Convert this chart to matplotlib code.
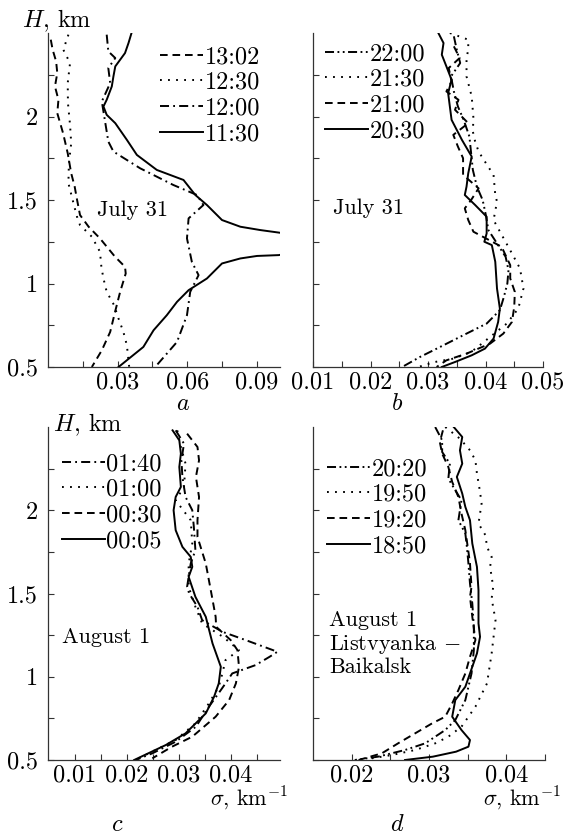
import matplotlib
matplotlib.use("Agg")
import matplotlib.pyplot as plt
from matplotlib.ticker import MultipleLocator, FixedLocator

plt.rcParams["font.family"] = ["cmr10", "DejaVu Serif"]
plt.rcParams["mathtext.fontset"] = "cm"
plt.rcParams["axes.formatter.use_mathtext"] = True
plt.rcParams["lines.scale_dashes"] = False
FS = 16      # annotations
TFS = 17.5   # ticks and legends

# ---- panel a: July 31, daytime ----
a_labels = ["13:02", "12:30", "12:00", "11:30"]
a_h_1302 = [2.46, 2.40, 2.33, 2.26, 2.18, 2.10, 2.02, 1.90, 1.78, 1.66, 1.58, 1.51,
            1.41, 1.34, 1.27, 1.16, 1.10, 1.06, 0.95, 0.83, 0.71, 0.60, 0.50]
a_s_1302 = [0.0012, 0.002, 0.0035, 0.004, 0.003, 0.0045, 0.004, 0.0065, 0.0085, 0.0100,
            0.0115, 0.0124, 0.0138, 0.0175, 0.0224, 0.0289, 0.0332, 0.0335, 0.0311,
            0.0289, 0.0268, 0.0232, 0.0189]
a_h_1230 = [2.49, 2.40, 2.32, 2.20, 2.08, 1.95, 1.84, 1.72, 1.60, 1.48, 1.40, 1.35, 1.28,
            1.19, 1.10, 1.03, 0.95, 0.87, 0.79, 0.71, 0.63, 0.50]
a_s_1230 = [0.0088, 0.0066, 0.0095, 0.0085, 0.0086, 0.0095, 0.0100, 0.0090, 0.0088,
            0.0110, 0.0125, 0.0138, 0.0189, 0.0224, 0.0230, 0.0239, 0.0253, 0.0285,
            0.0304, 0.0325, 0.0340, 0.0350]
a_h_1200 = [2.49, 2.39, 2.35, 2.29, 2.20, 2.09, 1.97, 1.85, 1.79, 1.69, 1.59, 1.53, 1.47,
            1.39, 1.27, 1.13, 1.05, 0.95, 0.81, 0.65, 0.50]
a_s_1200 = [0.0253, 0.026, 0.029, 0.026, 0.0268, 0.0232, 0.0246, 0.026, 0.0282, 0.0397,
            0.054, 0.0642, 0.067, 0.0606, 0.0599, 0.062, 0.0649, 0.0613, 0.0599, 0.0556,
            0.0462]
a_h_1130 = [2.50, 2.44, 2.38, 2.30, 2.24, 2.18, 2.10, 2.06, 2.01, 1.96, 1.86, 1.77, 1.68,
            1.62, 1.53, 1.47, 1.38, 1.34, 1.32, 1.305, 1.24, 1.17, 1.165, 1.15, 1.12,
            1.03, 0.96, 0.89, 0.81, 0.72, 0.62, 0.50]
a_s_1130 = [0.036, 0.0347, 0.0332, 0.029, 0.0282, 0.0275, 0.0253, 0.0239, 0.0253, 0.029,
            0.034, 0.0383, 0.0469, 0.0584, 0.0635, 0.0685, 0.075, 0.0829, 0.0915, 0.0994,
            0.13, 0.0994, 0.0901, 0.0829, 0.075, 0.0685, 0.0606, 0.0556, 0.0512, 0.0455,
            0.0411, 0.0304]

# ---- panel b: July 31, evening ----
b_labels = ["22:00", "21:30", "21:00", "20:30"]
b_h_2200 = [2.48, 2.40, 2.32, 2.24, 2.15, 2.06, 1.98, 1.88, 1.78, 1.68, 1.58, 1.50, 1.42,
            1.32, 1.24, 1.16, 1.08, 1.00, 0.92, 0.84, 0.76, 0.70, 0.62, 0.56, 0.50]
b_s_2200 = [0.0345, 0.0350, 0.0356, 0.0340, 0.0345, 0.0352, 0.0362, 0.0372, 0.0375,
            0.0378, 0.0385, 0.0395, 0.0400, 0.0405, 0.0420, 0.0435, 0.0440, 0.0438,
            0.0432, 0.0425, 0.0402, 0.0367, 0.0321, 0.0286, 0.0255]
b_h_2130 = [2.50, 2.46, 2.40, 2.35, 2.24, 2.12, 1.99, 1.91, 1.85, 1.79, 1.73, 1.65, 1.53,
            1.49, 1.38, 1.28, 1.18, 1.09, 0.97, 0.85, 0.76, 0.68, 0.63, 0.59, 0.55, 0.53,
            0.50]
b_s_2130 = [0.0338, 0.037, 0.037, 0.0367, 0.0367, 0.0376, 0.0379, 0.0378, 0.0382, 0.0388,
            0.0399, 0.0414, 0.0417, 0.042, 0.0414, 0.043, 0.0446, 0.046, 0.0466, 0.0457,
            0.0437, 0.0408, 0.039, 0.0375, 0.0344, 0.0312, 0.0283]
b_h_2100 = [2.42, 2.35, 2.29, 2.21, 2.15, 2.10, 2.04, 1.96, 1.89, 1.82, 1.75, 1.65, 1.57,
            1.50, 1.45, 1.38, 1.31, 1.22, 1.11, 1.03, 0.95, 0.86, 0.77, 0.70, 0.64, 0.58,
            0.54, 0.50]
b_s_2100 = [0.0345, 0.0355, 0.0336, 0.0341, 0.0332, 0.0353, 0.0347, 0.037, 0.0344, 0.0352,
            0.0361, 0.0361, 0.0388, 0.0375, 0.0364, 0.0370, 0.0379, 0.0428, 0.0443,
            0.0443, 0.0451, 0.0450, 0.0446, 0.0431, 0.0408, 0.0367, 0.0332, 0.0315]
b_h_2030 = [2.50, 2.44, 2.37, 2.30, 2.22, 2.14, 2.06, 1.98, 1.86, 1.76, 1.66, 1.58, 1.53,
            1.47, 1.40, 1.30, 1.25, 1.23, 1.13, 0.97, 0.85, 0.77, 0.67, 0.61, 0.57, 0.53,
            0.50]
b_s_2030 = [0.0318, 0.0327, 0.0324, 0.0332, 0.0341, 0.0335, 0.0338, 0.0341, 0.0359,
            0.0376, 0.037, 0.0367, 0.0364, 0.0382, 0.0402, 0.0402, 0.0398, 0.0411, 0.0417,
            0.042, 0.0425, 0.0422, 0.0414, 0.0399, 0.0376, 0.0347, 0.0324]

# ---- panel c: August 1, night ----
c_labels = ["01:40", "01:00", "00:30", "00:05"]
c_h_0140 = [2.48, 2.40, 2.30, 2.20, 2.08, 2.00, 1.90, 1.76, 1.68, 1.54, 1.50, 1.42, 1.34,
            1.27, 1.22, 1.15, 1.12, 1.07, 1.02, 0.96, 0.92, 0.82, 0.70, 0.61, 0.54, 0.50]
c_s_0140 = [0.0294, 0.031, 0.0305, 0.0307, 0.0313, 0.0326, 0.0329, 0.0332, 0.0323,
            0.0316, 0.032, 0.0336, 0.0345, 0.0384, 0.0429, 0.0490, 0.0475, 0.0448, 0.0403,
            0.0390, 0.0381, 0.0358, 0.0333, 0.0294, 0.0249, 0.0217]
c_h_0100 = [2.48, 2.38, 2.28, 2.14, 2.06, 1.94, 1.80, 1.68, 1.54, 1.42, 1.32, 1.24, 1.16,
            1.10, 1.02, 0.94, 0.84, 0.72, 0.62, 0.56, 0.51]
c_s_0100 = [0.0297, 0.0304, 0.0313, 0.031, 0.0294, 0.0323, 0.0326, 0.0319, 0.0319, 0.0332,
            0.0345, 0.0385, 0.0416, 0.039, 0.0384, 0.0377, 0.0358, 0.0332, 0.0294, 0.0255,
            0.0223]
c_h_0030 = [2.46, 2.38, 2.30, 2.20, 2.08, 1.94, 1.84, 1.68, 1.48, 1.36, 1.30, 1.22, 1.16,
            1.06, 0.96, 0.86, 0.76, 0.64, 0.58, 0.51]
c_s_0030 = [0.0316, 0.0336, 0.0339, 0.0333, 0.0339, 0.0336, 0.0336, 0.0352, 0.0364,
            0.0371, 0.0372, 0.040, 0.0413, 0.0416, 0.041, 0.0397, 0.0371, 0.0326, 0.0287,
            0.0249]
c_h_0005 = [2.48, 2.42, 2.34, 2.26, 2.14, 2.08, 2.00, 1.88, 1.78, 1.72, 1.66, 1.60, 1.48,
            1.36, 1.20, 1.06, 0.96, 0.88, 0.78, 0.66, 0.59, 0.50]
c_s_0005 = [0.0288, 0.0301, 0.0304, 0.0301, 0.0304, 0.0294, 0.029, 0.0294, 0.0307, 0.0323,
            0.0326, 0.0319, 0.0332, 0.0352, 0.0365, 0.0381, 0.0377, 0.0368, 0.0352, 0.0313,
            0.0275, 0.0214]

# ---- panel d: August 1, Listvyanka - Baikalsk ----
d_labels = ["20:20", "19:50", "19:20", "18:50"]
d_h_2020 = [2.50, 2.42, 2.35, 2.28, 2.19, 2.12, 2.06, 1.94, 1.86, 1.78, 1.68, 1.56, 1.44,
            1.30, 1.16, 1.02, 0.92, 0.86, 0.74, 0.68, 0.60, 0.56, 0.52, 0.50]
d_s_2020 = [0.0308, 0.0317, 0.0317, 0.0327, 0.0325, 0.0334, 0.0342, 0.0338, 0.0347,
            0.0349, 0.0351, 0.0353, 0.0356, 0.0358, 0.0358, 0.0355, 0.0350, 0.0347, 0.0334,
            0.0321, 0.0295, 0.0269, 0.0234, 0.0204]
d_h_1950 = [2.50, 2.43, 2.36, 2.30, 2.22, 2.11, 2.04, 1.92, 1.85, 1.78, 1.72, 1.66, 1.54,
            1.47, 1.34, 1.14, 0.96, 0.82, 0.70, 0.64, 0.60, 0.56, 0.53, 0.51]
d_s_1950 = [0.0321, 0.0340, 0.0353, 0.036, 0.0362, 0.0366, 0.0368, 0.0364, 0.0373, 0.0375,
            0.0381, 0.0379, 0.0383, 0.0381, 0.0386, 0.0381, 0.0375, 0.036, 0.0342, 0.0325,
            0.0308, 0.0282, 0.0252, 0.0226]
d_h_1920 = [2.48, 2.41, 2.34, 2.26, 2.17, 2.08, 1.98, 1.88, 1.75, 1.68, 1.54, 1.48, 1.36,
            1.22, 1.12, 1.02, 0.92, 0.84, 0.76, 0.72, 0.66, 0.60, 0.54, 0.50]
d_s_1920 = [0.0318, 0.0314, 0.0317, 0.0325, 0.033, 0.0338, 0.0342, 0.0347, 0.0351, 0.0353,
            0.0355, 0.0353, 0.0356, 0.036, 0.0353, 0.0347, 0.0338, 0.033, 0.0321, 0.0304,
            0.0282, 0.026, 0.0239, 0.0209]
d_h_1850 = [2.50, 2.44, 2.36, 2.28, 2.20, 2.10, 2.02, 1.94, 1.80, 1.66, 1.52, 1.40, 1.32,
            1.24, 1.14, 1.02, 0.94, 0.86, 0.76, 0.68, 0.62, 0.58, 0.55, 0.52, 0.50]
d_s_1850 = [0.0332, 0.0343, 0.034, 0.0343, 0.0336, 0.0343, 0.0347, 0.0353, 0.0356, 0.0362,
            0.0364, 0.0364, 0.0364, 0.0366, 0.0362, 0.0353, 0.0347, 0.0334, 0.033, 0.0342,
            0.0353, 0.0351, 0.0335, 0.0305, 0.0269]

# line styles (points)
DASH = (0, (5.5, 3.5))
DOT = (0, (1.3, 4.5))
DASHDOT = (0, (6.5, 3, 1.3, 3))
DASHDOTDOT = (0, (6.5, 2.5, 1.3, 2.5, 1.3, 2.5))
LW = 1.4

fig = plt.figure(figsize=(5.7, 8.35), dpi=100)
W, H = 570.0, 835.0


def make_ax(left, top, right, bottom):
    return fig.add_axes([left / W, 1 - bottom / H, (right - left) / W, (bottom - top) / H])


ax_a = make_ax(48, 33, 280, 367)
ax_b = make_ax(313, 33, 543, 367)
ax_c = make_ax(48, 427, 280, 760)
ax_d = make_ax(313, 427, 545, 760)

panels = [
    (ax_a, [(a_s_1302, a_h_1302, DASH), (a_s_1230, a_h_1230, DOT),
            (a_s_1200, a_h_1200, DASHDOT), (a_s_1130, a_h_1130, "-")], a_labels),
    (ax_b, [(b_s_2200, b_h_2200, DASHDOTDOT), (b_s_2130, b_h_2130, DOT),
            (b_s_2100, b_h_2100, DASH), (b_s_2030, b_h_2030, "-")], b_labels),
    (ax_c, [(c_s_0140, c_h_0140, DASHDOT), (c_s_0100, c_h_0100, DOT),
            (c_s_0030, c_h_0030, DASH), (c_s_0005, c_h_0005, "-")], c_labels),
    (ax_d, [(d_s_2020, d_h_2020, DASHDOTDOT), (d_s_1950, d_h_1950, DOT),
            (d_s_1920, d_h_1920, DASH), (d_s_1850, d_h_1850, "-")], d_labels),
]

legend_pos = [((160 - 48) / 232, (367 - 46) / 334),
              ((325 - 313) / 230, (367 - 43) / 334),
              ((62 - 48) / 232, (760 - 453) / 333),
              ((327 - 313) / 232, (760 - 458) / 333)]

for (ax, curves, labels), lpos in zip(panels, legend_pos):
    handles = []
    for (s, h, ls), lab in zip(curves, labels):
        ln, = ax.plot(s, h, color="black", lw=LW, linestyle=ls, label=lab)
        handles.append(ln)
    ax.legend(handles=handles, loc="upper left", bbox_to_anchor=lpos, frameon=False,
              fontsize=TFS, borderpad=0, borderaxespad=0, handlelength=1.75,
              handletextpad=0.08, labelspacing=0.15)
    ax.set_ylim(0.5, 2.5)
    ax.yaxis.set_major_locator(FixedLocator([0.5, 1.0, 1.5, 2.0]))
    ax.yaxis.set_minor_locator(FixedLocator([0.75, 1.25, 1.75, 2.25]))
    ax.spines["top"].set_visible(False)
    ax.spines["right"].set_visible(False)
    for sp in ("left", "bottom"):
        ax.spines[sp].set_linewidth(0.9)
        ax.spines[sp].set_color("#333333")
    ax.tick_params(which="both", direction="in", length=4, width=0.8, color="#333333",
                   labelsize=TFS)
    ax.tick_params(axis="y", pad=7)
    ax.tick_params(axis="x", pad=3)

# x axes
ax_a.set_xlim(0, 0.1)
ax_a.xaxis.set_major_locator(FixedLocator([0.03, 0.06, 0.09]))
ax_a.xaxis.set_minor_locator(FixedLocator([0.015, 0.045, 0.075]))
ax_a.xaxis.set_major_formatter(lambda v, p: f"{v:.2f}")

ax_b.set_xlim(0.01, 0.05)
ax_b.xaxis.set_major_locator(MultipleLocator(0.01))
ax_b.xaxis.set_minor_locator(MultipleLocator(0.005))
ax_b.xaxis.set_major_formatter(lambda v, p: f"{v:.2f}")

ax_c.set_xlim(0.0048, 0.0495)
ax_c.xaxis.set_major_locator(FixedLocator([0.01, 0.02, 0.03, 0.04]))
ax_c.xaxis.set_minor_locator(FixedLocator([0.015, 0.025, 0.035, 0.045]))
ax_c.xaxis.set_major_formatter(lambda v, p: f"{v:.2f}")

ax_d.set_xlim(0.015, 0.045)
ax_d.xaxis.set_major_locator(FixedLocator([0.02, 0.03, 0.04]))
ax_d.xaxis.set_minor_locator(FixedLocator([0.025, 0.035, 0.045]))
ax_d.xaxis.set_major_formatter(lambda v, p: f"{v:.2f}")

for ax in (ax_a, ax_c):
    ax.yaxis.set_major_formatter(lambda v, p: f"{v:g}")
for ax in (ax_b, ax_d):
    ax.tick_params(axis="y", labelleft=False)

# annotations
ax_a.text(0.21, 0.47, "July 31", transform=ax_a.transAxes, fontsize=FS, va="center")
ax_b.text(0.087, 0.476, "July 31", transform=ax_b.transAxes, fontsize=FS, va="center")
ax_c.text(0.06, 0.37, "August 1", transform=ax_c.transAxes, fontsize=FS, va="center")
ax_d.text(0.07, 0.35, "August 1\nListvyanka $-$\nBaikalsk", transform=ax_d.transAxes,
          fontsize=FS, va="center", linespacing=1.1)

fig.text(22 / W, 1 - 21 / H, "$H$, km", fontsize=TFS, va="center")
fig.text(53 / W, 1 - 425 / H, "$H$, km", fontsize=TFS, va="center")
fig.text(288 / W, 1 - 798 / H, r"$\sigma$, km$^{-1}$", fontsize=FS, va="center", ha="right")
fig.text(561 / W, 1 - 798 / H, r"$\sigma$, km$^{-1}$", fontsize=FS, va="center", ha="right")

for x, y, t in [(183, 404, "$a$"), (397, 404, "$b$"), (117, 825, "$c$"), (397, 825, "$d$")]:
    fig.text(x / W, 1 - y / H, t, fontsize=TFS, ha="center", va="center")

fig.savefig("out.png", dpi=100)
